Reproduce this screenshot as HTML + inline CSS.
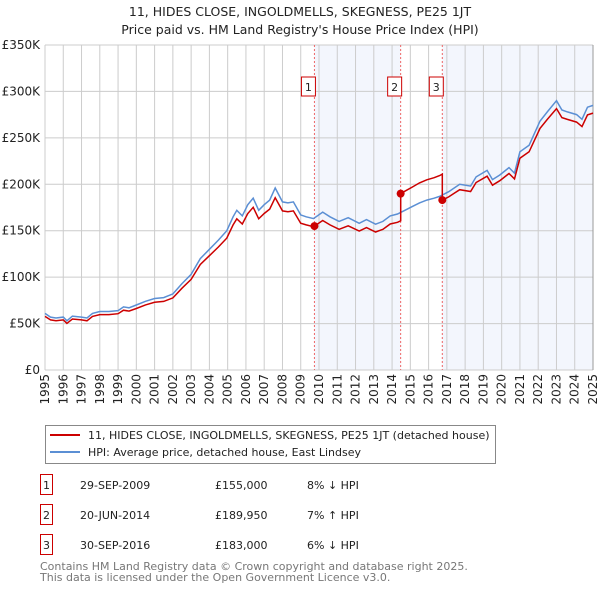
<!DOCTYPE html>
<html><head><meta charset="utf-8"><style>
body{margin:0;background:#fff;font-family:"Liberation Sans","DejaVu Sans",sans-serif;}
svg text{font-family:"DejaVu Sans","Liberation Sans",sans-serif;}
</style></head><body>
<svg id="c" width="600" height="590" xmlns="http://www.w3.org/2000/svg">
<text x="300" y="16" text-anchor="middle" font-size="12.5" fill="#222">11, HIDES CLOSE, INGOLDMELLS, SKEGNESS, PE25 1JT</text>
<text x="300" y="34" text-anchor="middle" font-size="12.5" fill="#222">Price paid vs. HM Land Registry's House Price Index (HPI)</text>
<g id="plot"></g>
<g>
<rect x="45.5" y="425.5" width="450" height="38" fill="#fff" stroke="#888"/>
<line x1="50" y1="435" x2="80" y2="435" stroke="#cc0000" stroke-width="2"/>
<text x="88" y="439" font-size="11" fill="#222">11, HIDES CLOSE, INGOLDMELLS, SKEGNESS, PE25 1JT (detached house)</text>
<line x1="50" y1="452" x2="80" y2="452" stroke="#5b8fd4" stroke-width="2"/>
<text x="88" y="456" font-size="11" fill="#222">HPI: Average price, detached house, East Lindsey</text>
</g>
<g id="table" font-size="11" fill="#222"></g>
<text x="40" y="570" font-size="11" fill="#777">Contains HM Land Registry data © Crown copyright and database right 2025.</text>
<text x="40" y="581" font-size="11" fill="#777">This data is licensed under the Open Government Licence v3.0.</text>
</svg>
<script>
const hpiYears=[1995,1995.3,1995.6,1996,1996.2,1996.5,1997,1997.3,1997.6,1998,1998.5,1999,1999.3,1999.6,2000,2000.5,2001,2001.5,2002,2002.5,2003,2003.5,2004,2004.5,2004.95,2005.3,2005.5,2005.8,2006.1,2006.4,2006.7,2007,2007.3,2007.6,2008,2008.3,2008.6,2009,2009.3,2009.7,2010.2,2010.6,2011.1,2011.6,2012.2,2012.6,2013.1,2013.5,2013.9,2014.3,2014.7,2015.1,2015.5,2015.9,2016.3,2016.6,2017.1,2017.4,2017.7,2018.3,2018.6,2019.2,2019.5,2019.9,2020.4,2020.7,2021,2021.5,2022.1,2022.5,2023,2023.3,2023.6,2024.1,2024.4,2024.7,2025];
const hpiValues=[61,57,56,57,53,58,57,56,61,63,63,64,68,67,70,74,77,78,82,93,103,120,130,140,150,165,172,166,178,185,172,178,183,196,181,180,181,167,165,163,170,165,160,164,158,162,157,160,166,168,172,176,180,183,185,187,192,196,200,198,208,215,205,210,218,212,235,242,268,278,290,280,278,275,270,283,285];
const saleYears=[2009.75,2014.47,2016.75];
const salePrices=[155,189.95,183];
const saleLabels=["1","2","3"];
const saleDates=["29-SEP-2009","20-JUN-2014","30-SEP-2016"];
const salePriceText=["£155,000","£189,950","£183,000"];
const saleDiff=["8% ↓ HPI","7% ↑ HPI","6% ↓ HPI"];
const yTicks=[0,50,100,150,200,250,300,350];
const yTickLabels=["£0","£50K","£100K","£150K","£200K","£250K","£300K","£350K"];
const xTicks=[1995,1996,1997,1998,1999,2000,2001,2002,2003,2004,2005,2006,2007,2008,2009,2010,2011,2012,2013,2014,2015,2016,2017,2018,2019,2020,2021,2022,2023,2024,2025];

const L=45,R=593,T=45,B=370;
const X=y=>L+(y-1995)/30*(R-L);
const Y=v=>B-v/350*(B-T);
const NS="http://www.w3.org/2000/svg";
const plot=document.getElementById('plot');
function mk(tag,attrs,parent){const e=document.createElementNS(NS,tag);for(const k in attrs)e.setAttribute(k,attrs[k]);(parent||plot).appendChild(e);return e;}
function hpiAt(t){for(let i=0;i<hpiYears.length-1;i++){if(t>=hpiYears[i]&&t<=hpiYears[i+1]){const f=(t-hpiYears[i])/(hpiYears[i+1]-hpiYears[i]);return hpiValues[i]+f*(hpiValues[i+1]-hpiValues[i]);}}return hpiValues[hpiValues.length-1];}

let s1=mk('rect',{x:X(saleYears[0]),y:T,width:X(saleYears[1])-X(saleYears[0]),height:B-T,fill:'#f3f6fd'});


let s2=mk('rect',{x:X(saleYears[2]),y:T,width:R-X(saleYears[2]),height:B-T,fill:'#f3f6fd'});


yTicks.forEach((v,i)=>{
  let g=mk('line',{x1:L,x2:R,y1:Y(v),y2:Y(v),stroke:'#cccccc','stroke-width':1});
  
  
  let t=mk('text',{x:L-5,y:Y(v)+4,'text-anchor':'end','font-size':12,fill:'#222'});
  t.textContent=yTickLabels[i];
  
  
});
xTicks.forEach(yr=>{
  let g=mk('line',{x1:X(yr),x2:X(yr),y1:T,y2:B,stroke:'#cccccc','stroke-width':1});
  
  
  let t=mk('text',{x:0,y:0,'text-anchor':'end','font-size':12,fill:'#222',transform:`translate(${X(yr)+4},${B+4}) rotate(-90)`});
  t.textContent=yr;
  
  
});
let ax=mk('line',{x1:R,x2:R,y1:T,y2:B,stroke:'#999','stroke-width':1});


saleYears.forEach((sy,i)=>{
  let l=mk('line',{x1:X(sy),x2:X(sy),y1:T,y2:B,stroke:'#e66','stroke-width':1,'stroke-dasharray':'2,2'});
  
  
  let r=mk('rect',{x:X(sy)-13,y:77,width:14,height:19,fill:'#fff',stroke:'#cc0000'});
  
  
  let t=mk('text',{x:X(sy)-6,y:91,'text-anchor':'middle','font-size':11,fill:'#222'});
  t.textContent=saleLabels[i];
  
  
});
let hp=hpiYears.map((yr,i)=>X(yr).toFixed(1)+','+Y(hpiValues[i]).toFixed(1)).join(' ');
let hl=mk('polyline',{points:hp,fill:'none',stroke:'#5b8fd4','stroke-width':1.5});


const ratios=saleYears.map((sy,i)=>salePrices[i]/hpiAt(sy));
let pts=[];
hpiYears.forEach((yr,i)=>{
  let k=0; for(let j=0;j<saleYears.length;j++) if(yr>=saleYears[j]) k=j;
  saleYears.forEach((sy,j)=>{ if(j>0 && pts.length && pts[pts.length-1][0]<sy && yr>=sy){pts.push([sy,hpiAt(sy)*ratios[j-1]]);pts.push([sy,salePrices[j]]);} });
  pts.push([yr,hpiValues[i]*ratios[k]]);
});
let pl=mk('polyline',{points:pts.map(p=>X(p[0]).toFixed(1)+','+Y(p[1]).toFixed(1)).join(' '),fill:'none',stroke:'#cc0000','stroke-width':1.5});


saleYears.forEach((sy,i)=>{
  let c=mk('circle',{cx:X(sy),cy:Y(salePrices[i]),r:4,fill:'#cc0000'});
  
  
});
const tb=document.getElementById('table');
saleYears.forEach((sy,i)=>{
  const y=488+i*30;
  let r=mk('rect',{x:40.5,y:y-13.5,width:12,height:20,fill:'#fff',stroke:'#cc0000'},tb);
  
  
  const cols=[[46.5,saleLabels[i],'middle'],[80,saleDates[i],'start'],[215,salePriceText[i],'start'],[307,saleDiff[i],'start']];
  cols.forEach(c=>{let t=mk('text',{x:c[0],y:y+1,'text-anchor':c[2],'font-size':11,fill:'#222'},tb);t.textContent=c[1];
    
    });
});
</script>
</body></html>
